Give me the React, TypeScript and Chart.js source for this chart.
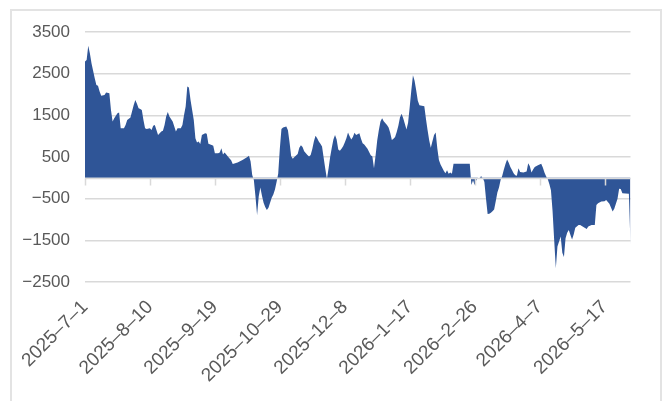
import React, { useEffect, useRef } from 'react';
import { Chart, registerables } from 'chart.js';

Chart.register(...registerables);

// Day offsets counted from 2025-7-1 (calendar days)
const dayOffsets = [
  0, 1, 2, 3, 4, 6, 7, 8, 9, 10, 12, 13, 15, 16, 17, 18, 20, 21, 22, 24, 25, 26, 28, 30, 31, 32, 33, 34, 35, 36, 37, 38, 40, 41, 42, 43, 44, 45, 46, 47, 48, 49, 50, 51, 52, 54, 55, 56, 57, 59, 60, 61, 62, 63, 64, 65, 67, 68, 69, 70, 71, 72, 74, 75, 76, 78, 79, 80, 82, 83, 84, 85, 86, 87, 88, 90, 91, 94, 97, 100, 101, 102, 103, 104, 105, 106, 107, 108, 109, 110, 111, 112, 113, 114, 115, 116, 117, 118, 119, 120, 121, 122, 124, 125, 126, 127, 128, 129, 131, 132, 133, 134, 135, 137, 138, 139, 140, 141, 142, 143, 144, 145, 146, 147, 148, 149, 150, 151, 152, 153, 154, 155, 156, 157, 158, 159, 160, 161, 162, 163, 164, 165, 166, 167, 169, 170, 171, 172, 174, 176, 177, 178, 179, 180, 181, 182, 183, 184, 186, 187, 188, 189, 190, 191, 192, 193, 194, 195, 196, 197, 198, 199, 200, 201, 202, 203, 204, 205, 206, 209, 210, 211, 212, 213, 214, 215, 216, 217, 218, 219, 221, 222, 223, 224, 225, 226, 227, 237, 238, 239, 240, 241, 242, 243, 244, 245, 246, 247, 248, 249, 250, 251, 252, 253, 254, 255, 256, 257, 258, 259, 260, 261, 262, 263, 264, 265, 266, 267, 268, 270, 272, 273, 274, 275, 276, 277, 279, 281, 282, 283, 284, 285, 286, 287, 288, 289, 290, 291, 293, 294, 295, 296, 297, 298, 299, 300, 301, 302, 304, 305, 307, 309, 310, 312, 314, 315, 316, 318, 320, 321, 323, 325, 326, 328, 329, 330, 331, 335, 336,
];

const netValues = [
  2790, 2830, 3170, 2990, 2750, 2390, 2230, 2210, 2070, 1970, 1990, 2050, 2030, 1630, 1350, 1430, 1550, 1570, 1190, 1190, 1270, 1390, 1450, 1750, 1870, 1780, 1670, 1650, 1630, 1390, 1190, 1170, 1190, 1150, 1250, 1270, 1150, 1030, 1070, 1110, 1130, 1270, 1470, 1580, 1470, 1350, 1230, 1110, 1190, 1190, 1270, 1510, 1710, 2190, 2170, 1870, 1390, 950, 850, 870, 810, 1030, 1070, 1060, 820, 790, 770, 590, 590, 610, 710, 560, 610, 560, 510, 420, 330, 370, 430, 500, 530, 390, 70, -50, -450, -890, -450, -230, -430, -600, -700, -770, -720, -600, -480, -400, -280, -100, 100, 700, 1170, 1210, 1230, 1140, 850, 520, 460, 500, 570, 720, 780, 740, 640, 550, 510, 550, 690, 880, 1010, 950, 870, 820, 750, 480, 220, -30, 220, 500, 720, 920, 1030, 920, 680, 650, 700, 760, 850, 950, 1090, 1000, 920, 980, 1080, 1030, 1070, 940, 830, 800, 700, 540, 510, 230, 540, 900, 1150, 1350, 1430, 1360, 1270, 1210, 1080, 910, 940, 980, 1100, 1250, 1450, 1540, 1430, 1300, 1160, 1320, 1700, 2100, 2460, 2330, 2100, 1850, 1740, 1720, 1420, 1150, 900, 720, 880, 1030, 1090, 710, 430, 320, 170, 110, 180, 100, 130, 100, 340, 340, -170, -60, -170, -60, 0, 0, 40, 0, -100, -500, -870, -860, -840, -800, -760, -560, -350, -230, -50, 50, 200, 330, 440, 360, 260, 190, 110, 60, 50, 230, 140, 130, 150, 350, 280, 130, 200, 260, 300, 340, 250, 130, 40, -30, -150, -300, -800, -1500, -2170, -1650, -1410, -1800, -1900, -1450, -1320, -1250, -1370, -1480, -1360, -1200, -1130, -1130, -1180, -1230, -1170, -1130, -1130, -650, -610, -570, -560, -530, -620, -810, -740, -500, -260, -270, -370, -380, -1610,
];

const xTickLabels = [
  '2025–7–1', '2025–8–10', '2025–9–19', '2025–10–29', '2025–12–8',
  '2026–1–17', '2026–2–26', '2026–4–7', '2026–5–17',
];

const yMin = -2500;
const yMax = 3500;
const yStep = 1000;
const xStep = 40;
const lastDay = 336;

const FONT_Y = { family: "'Liberation Sans', Arial, sans-serif", size: 17 };
const FONT_X = { family: "'Liberation Sans', Arial, sans-serif", size: 19 };
const TEXT_COLOR = '#595959';
const GRID_COLOR = '#d9d9d9';
const FILL_COLOR = '#2f5597';

const zeroAxisPlugin = {
  id: 'zeroAxis',
  afterDatasetsDraw(chart: any) {
    const { ctx, chartArea, scales } = chart;
    const x = scales.x;
    const y = scales.y;
    const y0 = Math.round(y.getPixelForValue(0)) + 0.5;
    ctx.save();
    ctx.strokeStyle = GRID_COLOR;
    ctx.lineWidth = 1.5;
    ctx.beginPath();
    ctx.moveTo(chartArea.left, y0);
    ctx.lineTo(chartArea.right, y0);
    x.ticks.forEach((t: any) => {
      const px = Math.round(x.getPixelForValue(t.value)) + 0.5;
      ctx.moveTo(px, y0);
      ctx.lineTo(px, y0 + 7);
    });
    ctx.stroke();
    ctx.restore();
  },
};

export default function App() {
  const canvasRef = useRef<HTMLCanvasElement | null>(null);

  useEffect(() => {
    if (!canvasRef.current) return;
    const chart = new Chart(canvasRef.current, {
      type: 'line',
      data: {
        datasets: [
          {
            data: dayOffsets.map((d, i) => ({ x: d, y: netValues[i] })),
            fill: 'origin',
            backgroundColor: FILL_COLOR,
            borderColor: FILL_COLOR,
            borderWidth: 0,
            pointRadius: 0,
            tension: 0,
          },
        ],
      },
      options: {
        animation: false,
        responsive: false,
        maintainAspectRatio: false,
        layout: { padding: { left: 10, right: 37.5, top: 32, bottom: 0 } },
        plugins: { legend: { display: false }, tooltip: { enabled: false } },
        scales: {
          x: {
            type: 'linear',
            min: 0,
            max: lastDay,
            grid: { display: false },
            border: { display: false },
            ticks: {
              stepSize: xStep,
              includeBounds: false,
              autoSkip: false,
              maxRotation: 45,
              minRotation: 45,
              padding: 6,
              font: FONT_X,
              color: TEXT_COLOR,
              callback: (v: any) => xTickLabels[Math.round(Number(v) / xStep)] ?? '',
            },
            afterFit: (s: any) => {
              s.height = 119;
            },
          },
          y: {
            min: yMin,
            max: yMax,
            grid: { color: GRID_COLOR, lineWidth: 1.5, drawTicks: false },
            border: { display: false },
            ticks: {
              stepSize: yStep,
              padding: 15,
              font: FONT_Y,
              color: TEXT_COLOR,
              callback: (v: any) => (Number(v) < 0 ? '−' + Math.abs(Number(v)) : String(v)),
            },
            afterFit: (s: any) => {
              s.width = 75;
            },
          },
        },
      },
      plugins: [zeroAxisPlugin],
    } as any);
    return () => chart.destroy();
  }, []);

  return (
    <div style={{ position: 'fixed', left: 0, top: 0, width: 668, height: 401, overflow: 'hidden', background: '#fff' }}>
      <div
        style={{
          position: 'absolute',
          left: 10,
          top: 9,
          width: 652,
          height: 460,
          boxSizing: 'border-box',
          border: '2px solid #e3e3e3',
        }}
      />
      <canvas ref={canvasRef} width={668} height={401} style={{ position: 'absolute', left: 0, top: 0 }} />
    </div>
  );
}
